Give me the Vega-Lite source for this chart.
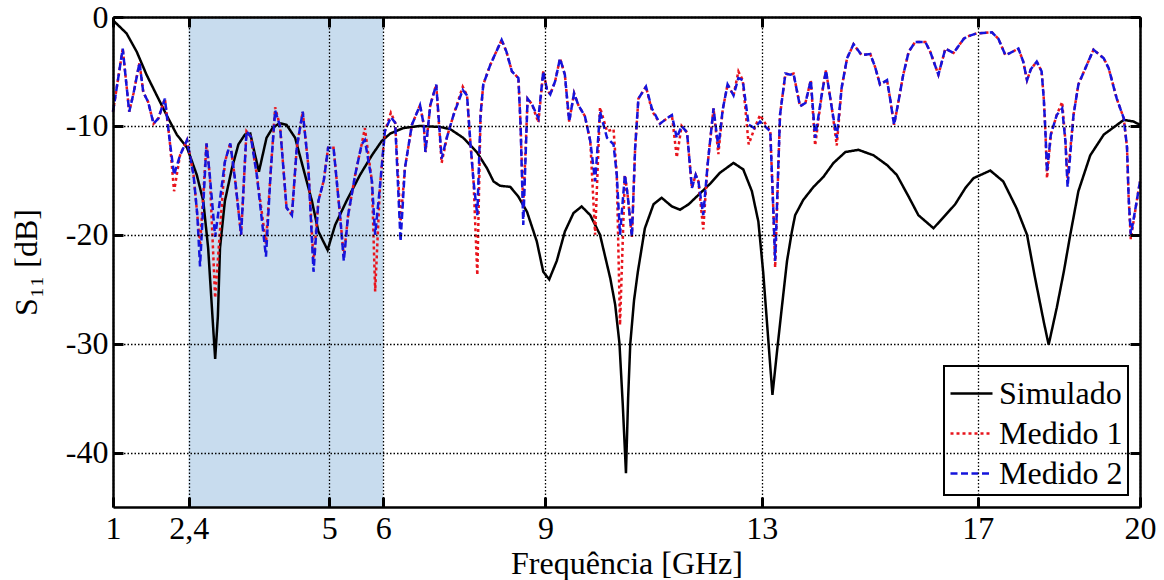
{
 "$schema": "https://vega.github.io/schema/vega-lite/v6.json",
 "width": 1027, "height": 490,
 "autosize": {"type": "none"},
 "padding": {"left": 113, "top": 17, "right": 24, "bottom": 73},
 "background": "white",
 "config": {"view": {"stroke": null}, "font": "Liberation Serif"},
 "datasets": {
  "sim": [
   {"f":1.00,"v":-0.3},{"f":1.25,"v":-1.5},{"f":1.44,"v":-3.2},{"f":1.62,"v":-5.3},{"f":1.81,"v":-7.2},{"f":1.99,"v":-9.0},{"f":2.18,"v":-10.8},{"f":2.37,"v":-12.0},{"f":2.55,"v":-14.5},{"f":2.67,"v":-16.9},{"f":2.76,"v":-21.2},{"f":2.84,"v":-27.5},{"f":2.89,"v":-31.4},{"f":2.94,"v":-27.5},{"f":2.98,"v":-21.2},{"f":3.07,"v":-16.9},{"f":3.20,"v":-13.9},{"f":3.32,"v":-11.7},{"f":3.44,"v":-10.8},{"f":3.54,"v":-10.7},{"f":3.62,"v":-12.5},{"f":3.70,"v":-14.2},{"f":3.84,"v":-11.1},{"f":3.95,"v":-10.2},{"f":4.08,"v":-9.75},{"f":4.21,"v":-9.9},{"f":4.37,"v":-11.1},{"f":4.52,"v":-13.9},{"f":4.68,"v":-16.9},{"f":4.80,"v":-19.7},{"f":4.97,"v":-21.4},{"f":5.11,"v":-19.1},{"f":5.32,"v":-16.9},{"f":5.57,"v":-14.5},{"f":5.79,"v":-12.7},{"f":5.97,"v":-11.4},{"f":6.13,"v":-10.7},{"f":6.37,"v":-10.2},{"f":6.68,"v":-10.0},{"f":7.05,"v":-10.1},{"f":7.24,"v":-10.3},{"f":7.48,"v":-11.1},{"f":7.73,"v":-12.4},{"f":7.92,"v":-13.9},{"f":8.04,"v":-15.1},{"f":8.16,"v":-15.5},{"f":8.35,"v":-15.6},{"f":8.50,"v":-16.5},{"f":8.66,"v":-17.9},{"f":8.84,"v":-20.6},{"f":8.96,"v":-23.4},{"f":9.07,"v":-24.1},{"f":9.21,"v":-22.4},{"f":9.36,"v":-19.7},{"f":9.52,"v":-18.0},{"f":9.67,"v":-17.4},{"f":9.83,"v":-18.2},{"f":10.01,"v":-20.0},{"f":10.2,"v":-24.0},{"f":10.29,"v":-26.4},{"f":10.37,"v":-30.0},{"f":10.43,"v":-35.5},{"f":10.49,"v":-41.9},{"f":10.53,"v":-35.0},{"f":10.57,"v":-30.0},{"f":10.64,"v":-26.0},{"f":10.71,"v":-23.4},{"f":10.84,"v":-19.4},{"f":11.00,"v":-17.2},{"f":11.15,"v":-16.6},{"f":11.34,"v":-17.4},{"f":11.49,"v":-17.7},{"f":11.65,"v":-17.2},{"f":11.86,"v":-16.2},{"f":12.05,"v":-15.3},{"f":12.23,"v":-14.3},{"f":12.48,"v":-13.4},{"f":12.66,"v":-14.0},{"f":12.82,"v":-16.0},{"f":12.94,"v":-18.8},{"f":13.03,"v":-23.5},{"f":13.13,"v":-30.1},{"f":13.20,"v":-34.7},{"f":13.30,"v":-30.0},{"f":13.40,"v":-25.5},{"f":13.47,"v":-22.4},{"f":13.56,"v":-19.7},{"f":13.62,"v":-18.2},{"f":13.77,"v":-16.8},{"f":13.96,"v":-15.6},{"f":14.14,"v":-14.7},{"f":14.33,"v":-13.4},{"f":14.55,"v":-12.4},{"f":14.79,"v":-12.2},{"f":15.07,"v":-12.7},{"f":15.32,"v":-13.6},{"f":15.50,"v":-14.5},{"f":15.72,"v":-16.5},{"f":15.90,"v":-18.2},{"f":16.18,"v":-19.4},{"f":16.40,"v":-18.2},{"f":16.58,"v":-17.2},{"f":16.77,"v":-15.7},{"f":16.92,"v":-14.8},{"f":17.23,"v":-14.1},{"f":17.47,"v":-15.1},{"f":17.72,"v":-17.6},{"f":17.91,"v":-20.0},{"f":18.06,"v":-24.0},{"f":18.22,"v":-28.0},{"f":18.31,"v":-30.1},{"f":18.46,"v":-26.7},{"f":18.59,"v":-23.4},{"f":18.71,"v":-20.0},{"f":18.86,"v":-16.0},{"f":19.08,"v":-12.7},{"f":19.33,"v":-10.8},{"f":19.70,"v":-9.45},{"f":19.88,"v":-9.6},{"f":20.00,"v":-9.9}
  ],
  "meas": [
   {"f":1.00,"Medido 1":-8.7,"Medido 2":-8.7},{"f":1.10,"Medido 1":-5.5,"Medido 2":-5.5},{"f":1.18,"Medido 1":-2.9,"Medido 2":-2.9},{"f":1.30,"Medido 1":-8.7,"Medido 2":-8.7},{"f":1.38,"Medido 1":-7.0,"Medido 2":-7.0},{"f":1.49,"Medido 1":-4.2,"Medido 2":-4.2},{"f":1.56,"Medido 1":-6.9,"Medido 2":-6.9},{"f":1.65,"Medido 1":-7.8,"Medido 2":-7.8},{"f":1.75,"Medido 1":-9.8,"Medido 2":-9.8},{"f":1.84,"Medido 1":-9.3,"Medido 2":-9.3},{"f":1.96,"Medido 1":-7.5,"Medido 2":-7.5},{"f":2.05,"Medido 1":-11.4,"Medido 2":-11.4},{"f":2.13,"Medido 1":-16.0,"Medido 2":-14.5},{"f":2.24,"Medido 1":-12.7,"Medido 2":-12.7},{"f":2.37,"Medido 1":-11.3,"Medido 2":-11.3},{"f":2.49,"Medido 1":-14.5,"Medido 2":-14.5},{"f":2.56,"Medido 1":-18.2,"Medido 2":-18.2},{"f":2.61,"Medido 1":-21.0,"Medido 2":-22.9},{"f":2.73,"Medido 1":-11.6,"Medido 2":-11.6},{"f":2.79,"Medido 1":-14.5,"Medido 2":-14.5},{"f":2.89,"Medido 1":-25.8,"Medido 2":-20.2},{"f":3.07,"Medido 1":-13.3,"Medido 2":-13.3},{"f":3.17,"Medido 1":-11.6,"Medido 2":-11.6},{"f":3.26,"Medido 1":-15.0,"Medido 2":-15.0},{"f":3.37,"Medido 1":-20.0,"Medido 2":-20.0},{"f":3.47,"Medido 1":-10.5,"Medido 2":-10.5},{"f":3.55,"Medido 1":-11.0,"Medido 2":-11.0},{"f":3.66,"Medido 1":-14.5,"Medido 2":-14.5},{"f":3.83,"Medido 1":-20.8,"Medido 2":-22.0},{"f":3.92,"Medido 1":-14.0,"Medido 2":-14.0},{"f":4.00,"Medido 1":-8.3,"Medido 2":-8.6},{"f":4.09,"Medido 1":-10.0,"Medido 2":-10.0},{"f":4.21,"Medido 1":-17.5,"Medido 2":-17.5},{"f":4.31,"Medido 1":-18.2,"Medido 2":-18.2},{"f":4.40,"Medido 1":-12.0,"Medido 2":-12.0},{"f":4.51,"Medido 1":-8.7,"Medido 2":-8.7},{"f":4.61,"Medido 1":-13.5,"Medido 2":-13.5},{"f":4.71,"Medido 1":-22.5,"Medido 2":-23.4},{"f":4.80,"Medido 1":-16.9,"Medido 2":-16.9},{"f":4.90,"Medido 1":-15.0,"Medido 2":-15.0},{"f":4.98,"Medido 1":-12.0,"Medido 2":-12.0},{"f":5.08,"Medido 1":-12.0,"Medido 2":-12.0},{"f":5.20,"Medido 1":-18.2,"Medido 2":-18.2},{"f":5.27,"Medido 1":-22.0,"Medido 2":-22.4},{"f":5.35,"Medido 1":-18.2,"Medido 2":-18.2},{"f":5.48,"Medido 1":-14.5,"Medido 2":-14.5},{"f":5.60,"Medido 1":-11.7,"Medido 2":-11.7},{"f":5.66,"Medido 1":-10.2,"Medido 2":-11.3},{"f":5.79,"Medido 1":-15.1,"Medido 2":-15.1},{"f":5.85,"Medido 1":-25.2,"Medido 2":-20.0},{"f":5.94,"Medido 1":-15.5,"Medido 2":-15.5},{"f":6.03,"Medido 1":-10.5,"Medido 2":-10.5},{"f":6.14,"Medido 1":-8.8,"Medido 2":-9.2},{"f":6.22,"Medido 1":-9.7,"Medido 2":-9.7},{"f":6.32,"Medido 1":-18.8,"Medido 2":-20.6},{"f":6.40,"Medido 1":-13.9,"Medido 2":-13.9},{"f":6.53,"Medido 1":-9.9,"Medido 2":-9.9},{"f":6.68,"Medido 1":-8.1,"Medido 2":-8.1},{"f":6.75,"Medido 1":-9.9,"Medido 2":-9.9},{"f":6.78,"Medido 1":-12.4,"Medido 2":-12.4},{"f":6.87,"Medido 1":-8.1,"Medido 2":-8.1},{"f":6.98,"Medido 1":-6.2,"Medido 2":-6.2},{"f":7.08,"Medido 1":-13.4,"Medido 2":-13.0},{"f":7.18,"Medido 1":-11.0,"Medido 2":-11.0},{"f":7.30,"Medido 1":-9.0,"Medido 2":-9.0},{"f":7.47,"Medido 1":-6.4,"Medido 2":-6.7},{"f":7.55,"Medido 1":-7.2,"Medido 2":-7.2},{"f":7.61,"Medido 1":-11.4,"Medido 2":-11.4},{"f":7.67,"Medido 1":-15.1,"Medido 2":-15.1},{"f":7.74,"Medido 1":-23.7,"Medido 2":-18.2},{"f":7.80,"Medido 1":-9.0,"Medido 2":-9.0},{"f":7.85,"Medido 1":-6.2,"Medido 2":-6.2},{"f":7.98,"Medido 1":-4.4,"Medido 2":-4.4},{"f":8.19,"Medido 1":-2.1,"Medido 2":-2.1},{"f":8.28,"Medido 1":-3.2,"Medido 2":-3.2},{"f":8.38,"Medido 1":-5.0,"Medido 2":-5.0},{"f":8.50,"Medido 1":-5.6,"Medido 2":-5.6},{"f":8.54,"Medido 1":-9.9,"Medido 2":-9.9},{"f":8.59,"Medido 1":-17.5,"Medido 2":-19.1},{"f":8.67,"Medido 1":-7.5,"Medido 2":-7.5},{"f":8.75,"Medido 1":-8.0,"Medido 2":-8.0},{"f":8.87,"Medido 1":-9.7,"Medido 2":-9.3},{"f":8.96,"Medido 1":-5.0,"Medido 2":-5.0},{"f":9.03,"Medido 1":-6.7,"Medido 2":-6.7},{"f":9.09,"Medido 1":-7.1,"Medido 2":-7.1},{"f":9.18,"Medido 1":-5.9,"Medido 2":-5.9},{"f":9.27,"Medido 1":-3.8,"Medido 2":-3.8},{"f":9.36,"Medido 1":-5.3,"Medido 2":-5.3},{"f":9.44,"Medido 1":-9.6,"Medido 2":-9.6},{"f":9.53,"Medido 1":-7.0,"Medido 2":-7.0},{"f":9.61,"Medido 1":-8.1,"Medido 2":-8.1},{"f":9.73,"Medido 1":-9.1,"Medido 2":-9.1},{"f":9.83,"Medido 1":-11.4,"Medido 2":-11.4},{"f":9.92,"Medido 1":-20.0,"Medido 2":-15.1},{"f":10.01,"Medido 1":-8.3,"Medido 2":-8.7},{"f":10.14,"Medido 1":-10.5,"Medido 2":-11.1},{"f":10.26,"Medido 1":-10.3,"Medido 2":-11.7},{"f":10.32,"Medido 1":-14.5,"Medido 2":-14.5},{"f":10.38,"Medido 1":-28.3,"Medido 2":-20.0},{"f":10.47,"Medido 1":-14.5,"Medido 2":-14.5},{"f":10.52,"Medido 1":-16.3,"Medido 2":-16.3},{"f":10.60,"Medido 1":-20.2,"Medido 2":-20.2},{"f":10.66,"Medido 1":-12.0,"Medido 2":-12.0},{"f":10.72,"Medido 1":-7.5,"Medido 2":-7.5},{"f":10.86,"Medido 1":-6.4,"Medido 2":-6.4},{"f":10.97,"Medido 1":-8.6,"Medido 2":-8.4},{"f":11.12,"Medido 1":-9.8,"Medido 2":-9.8},{"f":11.25,"Medido 1":-9.3,"Medido 2":-9.3},{"f":11.34,"Medido 1":-9.0,"Medido 2":-9.0},{"f":11.43,"Medido 1":-12.9,"Medido 2":-11.1},{"f":11.52,"Medido 1":-10.0,"Medido 2":-10.0},{"f":11.62,"Medido 1":-10.6,"Medido 2":-10.6},{"f":11.71,"Medido 1":-15.7,"Medido 2":-15.7},{"f":11.78,"Medido 1":-14.5,"Medido 2":-14.5},{"f":11.83,"Medido 1":-15.1,"Medido 2":-15.1},{"f":11.92,"Medido 1":-19.5,"Medido 2":-18.2},{"f":12.00,"Medido 1":-13.6,"Medido 2":-13.6},{"f":12.11,"Medido 1":-8.4,"Medido 2":-8.4},{"f":12.20,"Medido 1":-12.6,"Medido 2":-12.0},{"f":12.28,"Medido 1":-8.5,"Medido 2":-8.5},{"f":12.37,"Medido 1":-6.2,"Medido 2":-6.2},{"f":12.48,"Medido 1":-7.2,"Medido 2":-7.2},{"f":12.57,"Medido 1":-5.0,"Medido 2":-5.6},{"f":12.65,"Medido 1":-5.8,"Medido 2":-5.8},{"f":12.76,"Medido 1":-11.7,"Medido 2":-9.9},{"f":12.87,"Medido 1":-10.2,"Medido 2":-10.2},{"f":12.97,"Medido 1":-9.0,"Medido 2":-9.6},{"f":13.16,"Medido 1":-10.5,"Medido 2":-10.5},{"f":13.22,"Medido 1":-18.2,"Medido 2":-18.2},{"f":13.25,"Medido 1":-23.0,"Medido 2":-22.4},{"f":13.34,"Medido 1":-9.0,"Medido 2":-9.0},{"f":13.44,"Medido 1":-5.2,"Medido 2":-5.2},{"f":13.53,"Medido 1":-5.3,"Medido 2":-5.3},{"f":13.59,"Medido 1":-5.2,"Medido 2":-5.2},{"f":13.71,"Medido 1":-8.2,"Medido 2":-8.2},{"f":13.81,"Medido 1":-7.9,"Medido 2":-7.9},{"f":13.91,"Medido 1":-5.8,"Medido 2":-5.8},{"f":13.99,"Medido 1":-11.8,"Medido 2":-11.1},{"f":14.11,"Medido 1":-7.2,"Medido 2":-7.2},{"f":14.19,"Medido 1":-4.9,"Medido 2":-4.9},{"f":14.30,"Medido 1":-8.4,"Medido 2":-8.4},{"f":14.39,"Medido 1":-11.8,"Medido 2":-11.1},{"f":14.48,"Medido 1":-6.5,"Medido 2":-6.5},{"f":14.58,"Medido 1":-3.8,"Medido 2":-3.8},{"f":14.70,"Medido 1":-2.5,"Medido 2":-2.5},{"f":14.85,"Medido 1":-3.5,"Medido 2":-3.5},{"f":15.01,"Medido 1":-3.4,"Medido 2":-3.4},{"f":15.10,"Medido 1":-4.6,"Medido 2":-4.6},{"f":15.19,"Medido 1":-6.2,"Medido 2":-6.2},{"f":15.32,"Medido 1":-5.8,"Medido 2":-5.8},{"f":15.38,"Medido 1":-7.6,"Medido 2":-7.6},{"f":15.45,"Medido 1":-9.9,"Medido 2":-9.9},{"f":15.53,"Medido 1":-7.8,"Medido 2":-7.8},{"f":15.62,"Medido 1":-5.3,"Medido 2":-5.3},{"f":15.72,"Medido 1":-3.2,"Medido 2":-3.2},{"f":15.84,"Medido 1":-2.3,"Medido 2":-2.3},{"f":16.03,"Medido 1":-2.3,"Medido 2":-2.3},{"f":16.12,"Medido 1":-3.2,"Medido 2":-3.2},{"f":16.27,"Medido 1":-5.3,"Medido 2":-5.3},{"f":16.40,"Medido 1":-2.9,"Medido 2":-2.9},{"f":16.55,"Medido 1":-3.3,"Medido 2":-3.3},{"f":16.74,"Medido 1":-2.0,"Medido 2":-2.0},{"f":16.80,"Medido 1":-1.8,"Medido 2":-1.8},{"f":16.98,"Medido 1":-1.5,"Medido 2":-1.5},{"f":17.26,"Medido 1":-1.4,"Medido 2":-1.4},{"f":17.38,"Medido 1":-2.0,"Medido 2":-2.0},{"f":17.51,"Medido 1":-3.5,"Medido 2":-3.5},{"f":17.60,"Medido 1":-3.3,"Medido 2":-3.3},{"f":17.75,"Medido 1":-2.9,"Medido 2":-2.9},{"f":17.84,"Medido 1":-4.1,"Medido 2":-4.1},{"f":17.91,"Medido 1":-5.8,"Medido 2":-5.8},{"f":17.98,"Medido 1":-4.8,"Medido 2":-4.8},{"f":18.09,"Medido 1":-4.1,"Medido 2":-4.1},{"f":18.18,"Medido 1":-5.0,"Medido 2":-5.0},{"f":18.22,"Medido 1":-7.5,"Medido 2":-7.5},{"f":18.25,"Medido 1":-10.5,"Medido 2":-10.5},{"f":18.28,"Medido 1":-14.8,"Medido 2":-14.2},{"f":18.35,"Medido 1":-10.8,"Medido 2":-10.8},{"f":18.46,"Medido 1":-9.0,"Medido 2":-9.0},{"f":18.56,"Medido 1":-7.8,"Medido 2":-8.4},{"f":18.62,"Medido 1":-11.4,"Medido 2":-11.4},{"f":18.66,"Medido 1":-14.8,"Medido 2":-15.6},{"f":18.77,"Medido 1":-9.0,"Medido 2":-9.0},{"f":18.86,"Medido 1":-6.2,"Medido 2":-6.2},{"f":18.99,"Medido 1":-4.7,"Medido 2":-4.7},{"f":19.14,"Medido 1":-3.0,"Medido 2":-3.0},{"f":19.33,"Medido 1":-3.8,"Medido 2":-3.8},{"f":19.42,"Medido 1":-4.7,"Medido 2":-4.7},{"f":19.57,"Medido 1":-7.5,"Medido 2":-7.5},{"f":19.70,"Medido 1":-9.3,"Medido 2":-9.3},{"f":19.76,"Medido 1":-12.0,"Medido 2":-12.0},{"f":19.79,"Medido 1":-16.6,"Medido 2":-16.6},{"f":19.83,"Medido 1":-20.4,"Medido 2":-20.0},{"f":19.94,"Medido 1":-16.9,"Medido 2":-16.9},{"f":20.00,"Medido 1":-15.1,"Medido 2":-15.1}
  ]
 },
 "layer": [
  {
   "data": {"values": [{"a": 2.4, "b": 6, "lo": -45, "hi": 0}]},
   "mark": {"type": "rect", "color": "#c8dcee"},
   "encoding": {
    "x": {"field": "a", "type": "quantitative", "scale": {"domain": [1, 20], "nice": false, "zero": false},
     "axis": {"orient": "bottom", "values": [1, 2.4, 5, 6, 9, 13, 17, 20],
      "labelExpr": "datum.value == 2.4 ? '2,4' : format(datum.value, 'd')",
      "title": "Frequência [GHz]", "titleFont": "Liberation Serif", "titleFontSize": 32, "titleFontWeight": "normal", "titleColor": "black",
      "titleY": 66, "titleBaseline": "alphabetic",
      "labelFont": "Liberation Serif", "labelFontSize": 32, "labelColor": "black", "labelPadding": 16, "labelFlush": false, "labelOverlap": false,
      "tickSize": -10, "tickWidth": 3, "tickColor": "black",
      "domainColor": "black", "domainWidth": 2.5,
      "grid": true, "gridColor": "black", "gridDash": [1.5, 2], "gridWidth": 1.3, "gridOpacity": 1, "zindex": 1}},
    "x2": {"field": "b"},
    "y": {"field": "lo", "type": "quantitative", "scale": {"domain": [-45, 0], "nice": false, "zero": false},
     "axis": {"orient": "left", "values": [0, -10, -20, -30, -40],
      "labelExpr": "datum.value == 0 ? '0' : '-' + format(-datum.value, 'd')",
      "title": "S₁₁ [dB]", "titleFont": "Liberation Serif", "titleFontSize": 32, "titleFontWeight": "normal", "titleColor": "black", "titlePadding": 22,
      "labelFont": "Liberation Serif", "labelFontSize": 32, "labelColor": "black", "labelPadding": 15, "labelFlush": false, "labelOverlap": false,
      "tickSize": -10, "tickWidth": 3, "tickColor": "black",
      "domainColor": "black", "domainWidth": 2.5,
      "grid": true, "gridColor": "black", "gridDash": [1.5, 2], "gridWidth": 1.3, "gridOpacity": 1, "zindex": 1}},
    "y2": {"field": "hi"}
   }
  },
  {
   "data": {"name": "sim"},
   "mark": {"type": "line", "strokeWidth": 2.5},
   "encoding": {
    "x": {"field": "f", "type": "quantitative",
     "axis": {"orient": "top", "values": [1, 2.4, 5, 6, 9, 13, 17, 20], "labels": false, "title": null, "grid": false,
      "tickSize": -10, "tickWidth": 3, "tickColor": "black", "domainColor": "black", "domainWidth": 2.5, "zindex": 1}},
    "y": {"field": "v", "type": "quantitative",
     "axis": {"orient": "right", "values": [0, -10, -20, -30, -40], "labels": false, "title": null, "grid": false,
      "tickSize": -10, "tickWidth": 3, "tickColor": "black", "domainColor": "black", "domainWidth": 2.5, "zindex": 1}},
    "color": {"datum": "Simulado", "type": "nominal", "title": null,
     "scale": {"domain": ["Simulado", "Medido 1", "Medido 2"], "range": ["#000000", "#e8141c", "#1414dc"]},
     "legend": {"orient": "bottom-right", "offset": 12, "title": null, "values": ["Simulado", "Medido 1", "Medido 2"],
      "symbolType": "stroke", "symbolSize": 1764,
      "symbolStrokeWidth": 2.5, "labelFont": "Liberation Serif", "labelFontSize": 32, "labelColor": "black",
      "labelExpr": "datum.label + '\u2003'",
      "labelOffset": 5, "padding": 5, "rowPadding": 1, "strokeColor": "black", "fillColor": "white", "cornerRadius": 0,
      "labelLimit": 300,
      "encode": {"legend": {"update": {"strokeWidth": {"value": 2}}}}}},
    "strokeDash": {"datum": "Simulado", "type": "nominal", "title": null,
     "scale": {"domain": ["Simulado", "Medido 1", "Medido 2"], "range": [[1, 0], [3, 3], [7, 3.5]]}}
   }
  },
  {
   "data": {"name": "meas"},
   "transform": [{"fold": ["Medido 1", "Medido 2"], "as": ["s", "v"]}],
   "mark": {"type": "line", "strokeWidth": 2.5},
   "encoding": {
    "x": {"field": "f", "type": "quantitative", "axis": null},
    "y": {"field": "v", "type": "quantitative", "axis": null},
    "color": {"field": "s", "type": "nominal", "title": null},
    "strokeDash": {"field": "s", "type": "nominal", "title": null}
   }
  }
 ],
 "resolve": {"axis": {"x": "independent", "y": "independent"}}
}
